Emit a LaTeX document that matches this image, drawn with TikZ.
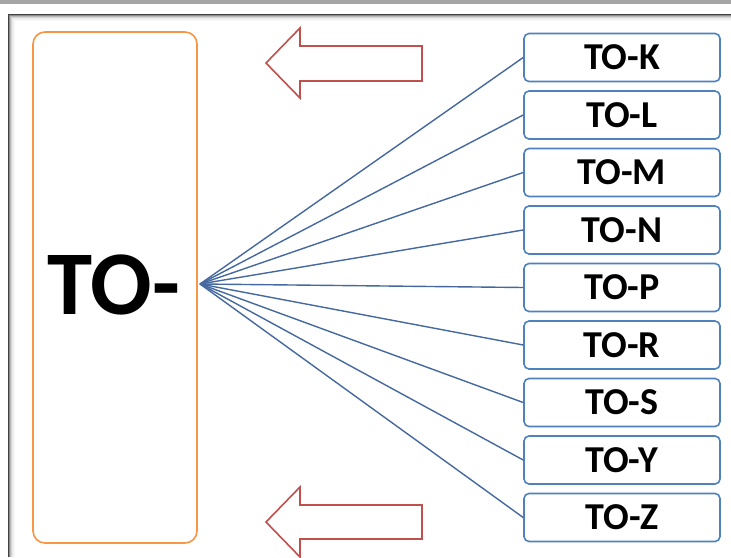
\documentclass[tikz,border=0pt]{standalone}
\usepackage{fontspec}
\setmainfont{Carlito}
\begin{document}
\begin{tikzpicture}[x=1pt,y=-1pt,
  leafbox/.style={draw=leafblue, line width=1.6pt, rounded corners=5pt, minimum width=196pt, minimum height=48pt, inner sep=0pt, font=\fontsize{38}{38}\selectfont\bfseries},
  conn/.style={draw=connblue, line width=1.4pt},
  redarrow/.style={draw=arrowred, line width=1.6pt, fill=white, line join=miter}]
\definecolor{leafblue}{HTML}{4F81BD}
\definecolor{connblue}{HTML}{45699E}
\definecolor{arrowred}{HTML}{C0504D}
\definecolor{mainorange}{HTML}{F79646}
\useasboundingbox (0,0) rectangle (731,557);
\fill[white] (0,0) rectangle (731,557);
% top grey bar
\fill[black!35] (0,0) rectangle (731,4);
% frame with shadow
\foreach \i/\o in {0/0.75,1/0.45,2/0.28,3/0.16,4/0.09,5/0.05,6/0.03} {
  \draw[black, opacity=\o, line width=1pt] (8.5+\i,557) -- (8.5+\i,14.5+\i) -- (731,14.5+\i);
}
% main box
\node[draw=mainorange, line width=1.6pt, rounded corners=12pt, minimum width=164pt, minimum height=511pt, inner sep=0pt] (main) at (115,287.5) {};
\node[font=\fontsize{91}{91}\selectfont\bfseries, anchor=center] (maintext) at (114,285) {TO-};
\coordinate (hub) at (200,284);
% leaves
\foreach \n/\t [count=\k from 0] in {k/TO-K,l/TO-L,m/TO-M,n/TO-N,p/TO-P,r/TO-R,s/TO-S,y/TO-Y,z/TO-Z} {
  \node[leafbox] (\n) at (622,57.5+57.5*\k) {\t};
  \draw[conn] (hub) -- (\n.west);
}
% arrows
\draw[redarrow] (266,63) -- (300,28) -- (300,46) -- (422,46) -- (422,81) -- (300,81) -- (300,98) -- cycle;
\draw[redarrow] (266,522) -- (300,487) -- (300,505) -- (422,505) -- (422,539) -- (300,539) -- (300,557) -- cycle;
\end{tikzpicture}
\end{document}
